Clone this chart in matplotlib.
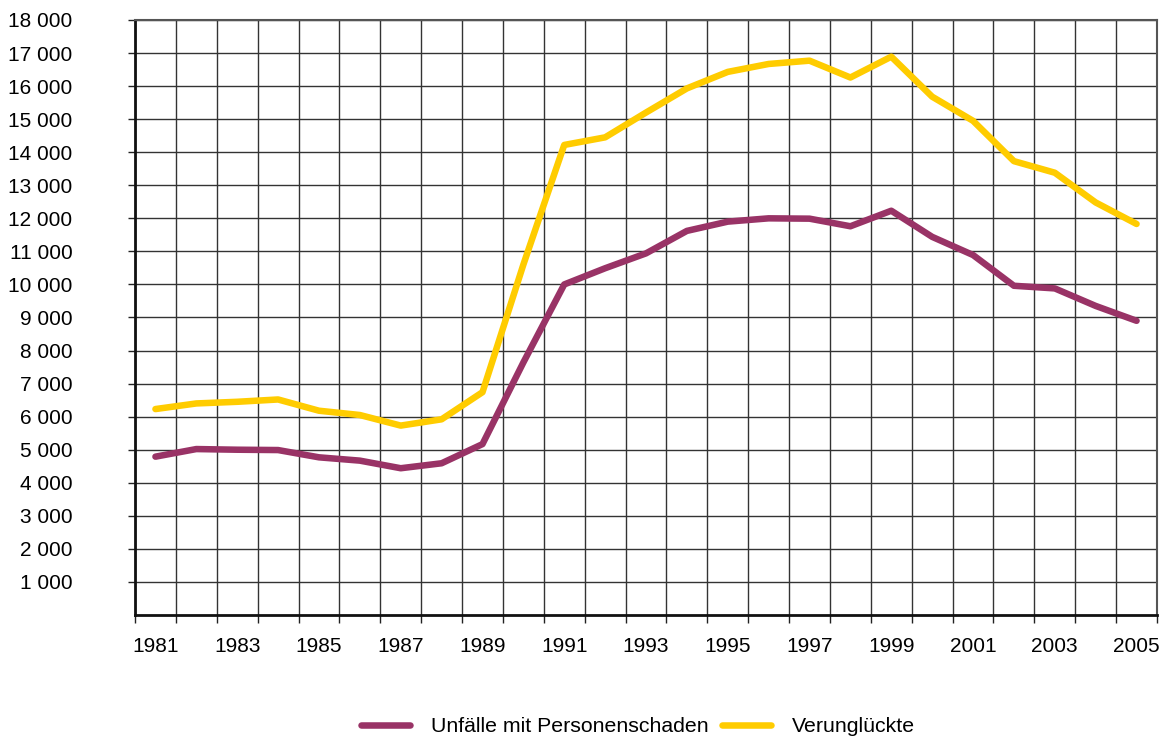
import matplotlib
matplotlib.use("Agg")
import matplotlib.pyplot as plt
import numpy as np

years = list(range(1981, 2006))
unfaelle = [4790, 5020, 5000, 4990, 4770, 4670, 4440, 4590, 5170, 7640,
            10000, 10490, 10940, 11620, 11900, 12000, 11990, 11760, 12230,
            11440, 10890, 9960, 9880, 9350, 8900]
verunglueckte = [6230, 6400, 6450, 6520, 6180, 6050, 5730, 5920, 6740, 10600,
                 14220, 14450, 15200, 15930, 16430, 16670, 16770, 16260, 16890,
                 15680, 14950, 13730, 13380, 12480, 11830]
yticks = list(range(1000, 18001, 1000))
ytick_labels = [f"{v//1000} 000" for v in yticks]
label_unf = "Unfälle mit Personenschaden"
label_ver = "Verunglückte"

plt.rcParams['font.family'] = ['Liberation Sans', 'DejaVu Sans']

fig = plt.figure(figsize=(11.66, 7.43), dpi=100)
ax = fig.add_axes([135/1166, 1-615/743, (1157-135)/1166, (615-20)/743])

x = np.arange(len(years))
lw = 4.7
ax.plot(x, unfaelle, color='#993366', lw=lw, solid_capstyle='round',
        solid_joinstyle='round', label=label_unf, zorder=3)
ax.plot(x, verunglueckte, color='#FFCC00', lw=lw, solid_capstyle='round',
        solid_joinstyle='round', label=label_ver, zorder=3)

ax.set_xlim(-0.5, len(years) - 0.5)
ax.set_ylim(0, 18000)

# tick marks / grid at category boundaries, labels every 2 years at centers
ax.set_xticks(np.arange(-0.5, len(years), 1.0), minor=True)
ax.set_xticks(x[::2])
ax.set_xticklabels([str(y) for y in years[::2]], fontsize=15)
ax.tick_params(axis='x', which='major', length=0, pad=16)
ax.tick_params(axis='x', which='minor', length=6, width=1, color='#222222', direction='out')

ax.set_yticks(yticks)
ax.set_yticklabels(ytick_labels, fontsize=15)
ax.tick_params(axis='y', which='major', length=5, width=1, color='#222222',
               direction='out', pad=40)

ax.grid(True, which='minor', axis='x', color='#333333', lw=1.0)
ax.grid(True, which='major', axis='y', color='#333333', lw=1.0)
ax.set_axisbelow(True)

for side in ['left', 'bottom']:
    ax.spines[side].set_linewidth(2.0)
    ax.spines[side].set_color('#111111')
for side in ['top', 'right']:
    ax.spines[side].set_linewidth(1.5)
    ax.spines[side].set_color('#555555')

fig.legend(loc='center', bbox_to_anchor=(638/1166, 1-727/743), ncol=2,
           frameon=False, fontsize=15.3, handlelength=2.3, handletextpad=1.0,
           columnspacing=0.6)

fig.savefig('out.png', dpi=100)
